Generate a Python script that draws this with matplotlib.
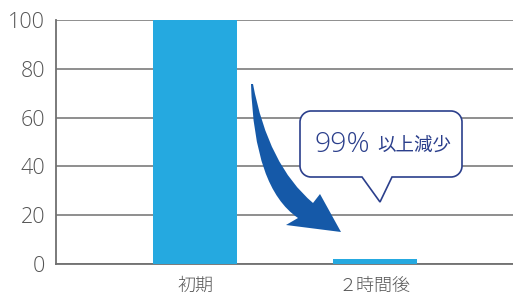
import matplotlib
matplotlib.use("Agg")
import matplotlib.pyplot as plt
from matplotlib.path import Path
from matplotlib.patches import PathPatch

categories = ["初期", "２時間後"]
values = [100, 2]
yticks = [0, 20, 40, 60, 80, 100]
callout_big = "99%"
callout_small = "以上減少"

W, H = 513, 299
fig = plt.figure(figsize=(W / 100, H / 100), dpi=100)
ax = fig.add_axes([56 / W, 35 / H, (W - 56) / W, 244 / H])

grid_c = "#707070"
bar_c = "#25a9e0"
text_c = "#555555"
navy = "#2b3f8c"

x = range(len(categories))
ax.bar(x, values, width=0.467, color=bar_c, zorder=3)
ax.set_xlim(-0.772, 1.767)
ax.set_ylim(0, 100)
ax.set_yticks(yticks)
ax.set_yticklabels([str(v) for v in yticks], fontsize=15.5, color=text_c,
                   family=["Open Sans", "DejaVu Sans"], fontweight="light")
ax.set_xticks(list(x))
ax.set_xticklabels(categories, fontsize=13, color=text_c,
                   family=["Noto Sans CJK JP", "DejaVu Sans"], fontweight="light")
ax.tick_params(axis="y", length=0, pad=8)
ax.tick_params(axis="x", length=0, pad=9)
ax.yaxis.grid(True, color=grid_c, linewidth=1.1, zorder=0)
ax.set_axisbelow(True)
for s in ["top", "right"]:
    ax.spines[s].set_visible(False)
for s in ["left", "bottom"]:
    ax.spines[s].set_color(grid_c)
    ax.spines[s].set_linewidth(1.3)


def P(px, py):
    return (px / W, 1 - py / H)


# curved arrow
verts = [P(251, 84), P(254, 188), P(298, 218),
         P(286, 225), P(341, 232), P(320, 194), P(313, 203),
         P(268, 165), P(253, 84), P(251, 84)]
codes = [Path.MOVETO, Path.CURVE3, Path.CURVE3,
         Path.LINETO, Path.LINETO, Path.LINETO, Path.LINETO,
         Path.CURVE3, Path.CURVE3, Path.CLOSEPOLY]
fig.patches.append(PathPatch(Path(verts, codes), transform=fig.transFigure,
                             facecolor="#1559a8", edgecolor="none", zorder=5))

# callout bubble
l, r, t, b, rad = 300, 462, 111, 177, 11
k = 0.45
bv = [P(l + rad, t), P(r - rad, t),
      P(r - rad * k, t), P(r, t + rad * k), P(r, t + rad),
      P(r, b - rad),
      P(r, b - rad * k), P(r - rad * k, b), P(r - rad, b),
      P(392, b), P(380, 202), P(362, b),
      P(l + rad, b),
      P(l + rad * k, b), P(l, b - rad * k), P(l, b - rad),
      P(l, t + rad),
      P(l, t + rad * k), P(l + rad * k, t), P(l + rad, t),
      P(l + rad, t)]
bc = [Path.MOVETO, Path.LINETO,
      Path.CURVE4, Path.CURVE4, Path.CURVE4,
      Path.LINETO,
      Path.CURVE4, Path.CURVE4, Path.CURVE4,
      Path.LINETO, Path.LINETO, Path.LINETO,
      Path.LINETO,
      Path.CURVE4, Path.CURVE4, Path.CURVE4,
      Path.LINETO,
      Path.CURVE4, Path.CURVE4, Path.CURVE4,
      Path.CLOSEPOLY]
fig.patches.append(PathPatch(Path(bv, bc), transform=fig.transFigure,
                             facecolor="white", edgecolor=navy, linewidth=1.2,
                             zorder=6))

fig.text(314 / W, 1 - 145 / H, callout_big, fontsize=20.5, color=navy,
         family=["Open Sans", "DejaVu Sans"], fontweight="light",
         ha="left", va="center", zorder=7)
fig.text(377 / W, 1 - 146 / H, callout_small, fontsize=13.3, color=navy,
         family=["Noto Sans CJK JP", "DejaVu Sans"], ha="left", va="center",
         zorder=7)

fig.savefig("out.png", dpi=100)
